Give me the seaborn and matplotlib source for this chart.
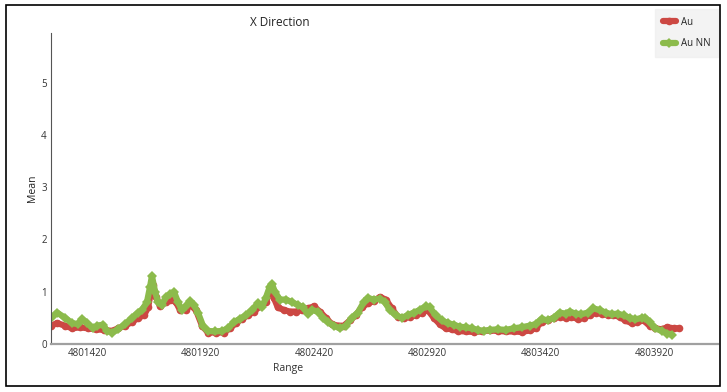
import pandas as pd
import matplotlib.pyplot as plt
import matplotlib.patches as mpatches
import seaborn as sns

# Au series (red)
au_range = [4801261, 4801288, 4801323, 4801354, 4801389, 4801424, 4801460, 4801495,
            4801530, 4801557, 4801587, 4801618, 4801645, 4801671, 4801689, 4801702,
            4801711, 4801724, 4801742, 4801768, 4801786, 4801812, 4801830, 4801856,
            4801874, 4801900, 4801927, 4801953, 4801988, 4802023, 4802050, 4802076,
            4802103, 4802129, 4802156, 4802182, 4802208, 4802226, 4802244, 4802261,
            4802288, 4802314, 4802341, 4802367, 4802394, 4802420, 4802446, 4802473,
            4802499, 4802526, 4802552, 4802579, 4802605, 4802631, 4802658, 4802684,
            4802711, 4802737, 4802764, 4802790, 4802816, 4802843, 4802869, 4802896,
            4802922, 4802949, 4802975, 4803001, 4803028, 4803054, 4803089, 4803125,
            4803160, 4803195, 4803230, 4803266, 4803301, 4803336, 4803371, 4803398,
            4803424, 4803451, 4803477, 4803504, 4803530, 4803556, 4803583, 4803609,
            4803636, 4803662, 4803689, 4803715, 4803741, 4803768, 4803794, 4803821,
            4803847, 4803874, 4803900, 4803926, 4803953, 4803979, 4804006, 4804032]
au_mean = [0.35, 0.40, 0.35, 0.30, 0.32, 0.30, 0.28, 0.27,
           0.25, 0.30, 0.35, 0.42, 0.50, 0.55, 0.70, 1.00,
           1.12, 0.90, 0.72, 0.80, 0.85, 0.80, 0.65, 0.65,
           0.75, 0.65, 0.35, 0.22, 0.22, 0.22, 0.30, 0.40,
           0.48, 0.55, 0.62, 0.72, 0.80, 1.00, 0.88, 0.70,
           0.65, 0.62, 0.62, 0.65, 0.68, 0.72, 0.62, 0.50,
           0.38, 0.35, 0.35, 0.45, 0.55, 0.70, 0.78, 0.82,
           0.90, 0.85, 0.68, 0.52, 0.50, 0.52, 0.55, 0.60,
           0.65, 0.50, 0.38, 0.30, 0.28, 0.25, 0.24, 0.23,
           0.24, 0.26, 0.25, 0.24, 0.24, 0.23, 0.26, 0.30,
           0.42, 0.45, 0.50, 0.52, 0.50, 0.52, 0.48, 0.50,
           0.55, 0.60, 0.58, 0.55, 0.55, 0.52, 0.45, 0.40,
           0.42, 0.45, 0.35, 0.30, 0.28, 0.32, 0.30, 0.30]

# Au NN series (green)
nn_range = [4801261, 4801288, 4801323, 4801354, 4801380, 4801398, 4801420, 4801446,
            4801464, 4801490, 4801508, 4801530, 4801557, 4801587, 4801618, 4801645,
            4801662, 4801684, 4801698, 4801706, 4801720, 4801733, 4801750, 4801768,
            4801786, 4801803, 4801821, 4801838, 4801856, 4801874, 4801891, 4801909,
            4801931, 4801953, 4801984, 4802015, 4802041, 4802068, 4802094, 4802120,
            4802147, 4802173, 4802191, 4802208, 4802226, 4802235, 4802248, 4802270,
            4802297, 4802323, 4802349, 4802371, 4802394, 4802411, 4802438, 4802460,
            4802482, 4802508, 4802534, 4802561, 4802587, 4802614, 4802640, 4802658,
            4802684, 4802711, 4802733, 4802755, 4802781, 4802808, 4802834, 4802860,
            4802887, 4802913, 4802931, 4802957, 4802984, 4803010, 4803037, 4803063,
            4803089, 4803116, 4803142, 4803169, 4803195, 4803230, 4803266, 4803301,
            4803336, 4803371, 4803398, 4803424, 4803451, 4803477, 4803504, 4803530,
            4803548, 4803574, 4803600, 4803627, 4803653, 4803680, 4803706, 4803733,
            4803759, 4803786, 4803812, 4803838, 4803865, 4803882, 4803900, 4803926,
            4803953, 4803979, 4803997]
nn_mean = [0.50, 0.60, 0.50, 0.40, 0.38, 0.48, 0.40, 0.30,
           0.35, 0.37, 0.25, 0.22, 0.28, 0.38, 0.50, 0.60,
           0.65, 0.80, 1.10, 1.30, 1.00, 0.80, 0.75, 0.90,
           0.95, 1.00, 0.80, 0.65, 0.72, 0.82, 0.75, 0.60,
           0.35, 0.25, 0.24, 0.25, 0.30, 0.42, 0.48, 0.55,
           0.65, 0.78, 0.70, 0.88, 1.10, 1.15, 1.00, 0.85,
           0.85, 0.80, 0.75, 0.70, 0.58, 0.65, 0.62, 0.50,
           0.42, 0.35, 0.30, 0.35, 0.50, 0.60, 0.80, 0.88,
           0.85, 0.87, 0.80, 0.65, 0.55, 0.50, 0.55, 0.60,
           0.65, 0.72, 0.70, 0.55, 0.45, 0.40, 0.37, 0.33,
           0.32, 0.30, 0.27, 0.25, 0.27, 0.28, 0.27, 0.30,
           0.32, 0.35, 0.38, 0.48, 0.45, 0.50, 0.60, 0.58,
           0.62, 0.58, 0.57, 0.60, 0.68, 0.65, 0.60, 0.57,
           0.58, 0.55, 0.50, 0.47, 0.50, 0.50, 0.42, 0.30,
           0.25, 0.20, 0.18]

x_ticks = [4801420, 4801920, 4802420, 4802920, 4803420, 4803920]
y_ticks = [0, 1, 2, 3, 4, 5]

red = "#cc4843"
green = "#8cbb4c"

df_au = pd.DataFrame({"Range": au_range, "Mean": au_mean})
df_nn = pd.DataFrame({"Range": nn_range, "Mean": nn_mean})

sns.set_style("white")
plt.rcParams['font.family'] = ['Open Sans', 'DejaVu Sans']

fig = plt.figure(figsize=(7.27, 3.92), dpi=100)
ax = fig.add_axes([51/727, 1 - 344/392, 667/727, 311/392])

sns.lineplot(data=df_au, x="Range", y="Mean", ax=ax, color=red, linewidth=4.5,
             marker="o", markersize=5.5, markeredgewidth=0, label="Au")
sns.lineplot(data=df_nn, x="Range", y="Mean", ax=ax, color=green, linewidth=4.5,
             marker="D", markersize=5.5, markeredgewidth=0, label="Au NN")

ax.set_xlim(4801261, 4804202)
ax.set_ylim(0, 5.95)
ax.set_xticks(x_ticks)
ax.set_xticklabels([str(t) for t in x_ticks])
ax.set_yticks(y_ticks)
ax.tick_params(axis="both", labelsize=7, colors="#333333", length=2, width=0.6,
               pad=1)
ax.tick_params(axis="x", colors="#999999", labelcolor="#333333")

for s in ["top", "right"]:
    ax.spines[s].set_visible(False)
ax.spines["left"].set_color("#555555")
ax.spines["left"].set_linewidth(0.8)
ax.spines["bottom"].set_color("#a0a0a0")
ax.spines["bottom"].set_linewidth(1.6)

ax.set_xlabel("Range", fontsize=7.5, color="#333333")
ax.set_ylabel("Mean", fontsize=7.5, color="#222222")
ax.xaxis.set_label_coords((288 - 51) / 667, -0.06)
ax.yaxis.set_label_coords(-0.019, 0.5)

fig.text(280/727, 1 - 22/392, "X Direction", ha="center", va="center",
         fontsize=8.5, color="#222222")

leg = ax.legend(loc="upper right", bbox_to_anchor=(720/727, 1 - 7/392),
                bbox_transform=fig.transFigure, fontsize=7, frameon=True,
                fancybox=False, handlelength=1.3, borderpad=0.8,
                labelspacing=1.1, handletextpad=0.5, borderaxespad=0.2)
leg.get_frame().set_facecolor("#f0f0f0")
leg.get_frame().set_edgecolor("#f0f0f0")

fig.patches.append(mpatches.Rectangle((6/727, 1 - 386/392), 714/727, 381/392,
                                      transform=fig.transFigure, fill=False,
                                      edgecolor="black", linewidth=1.2))

fig.savefig("out.png", dpi=100)
